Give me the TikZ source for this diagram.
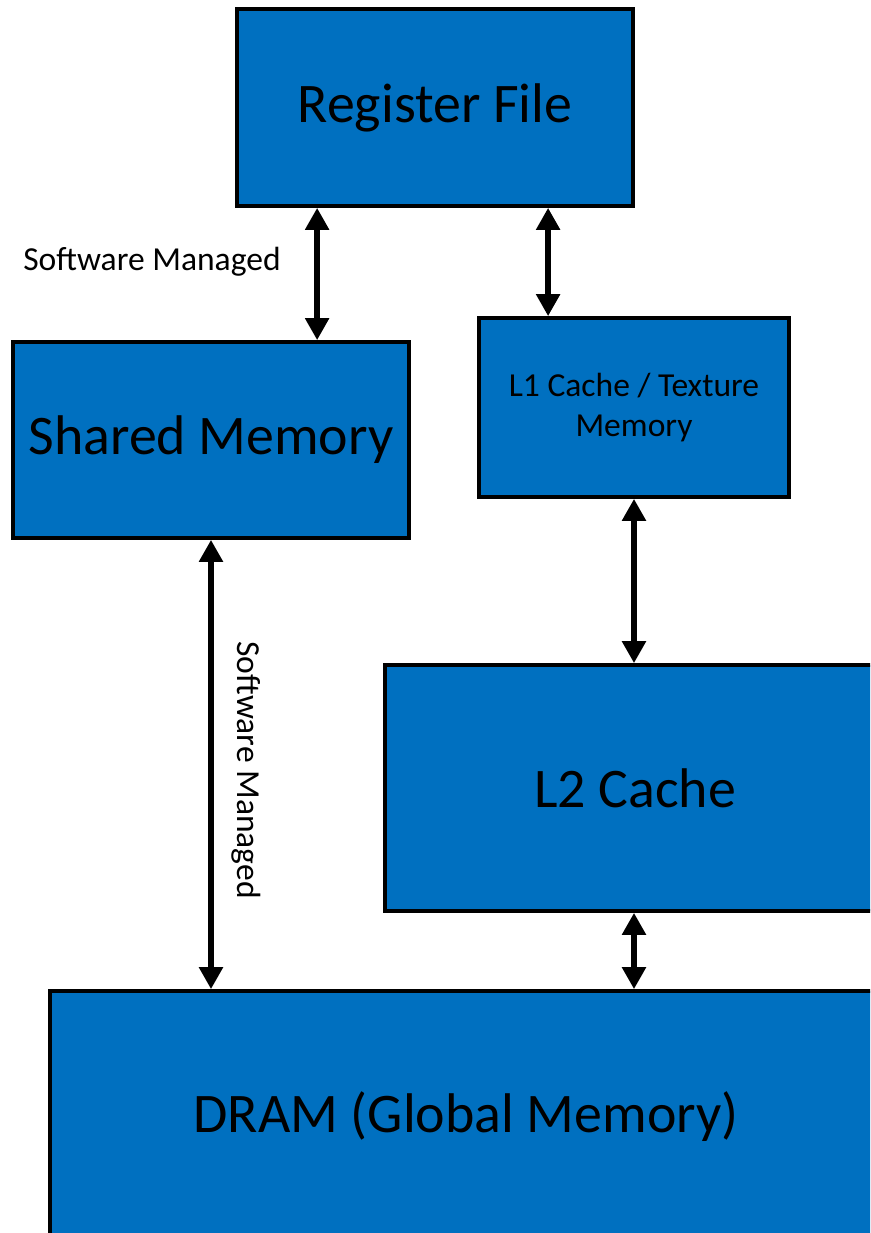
\documentclass[tikz,border=0pt]{standalone}
\usepackage{fontspec}
\setmainfont{Carlito}
\usetikzlibrary{calc,arrows.meta}

\definecolor{memblue}{HTML}{0070C0}

\begin{document}
\begin{tikzpicture}[x=0.02cm, y=-0.02cm,
    membox/.style={draw=black, fill=memblue, line width=2.1pt, rectangle, align=center, inner sep=0pt},
    bigtext/.style={font=\fontsize{31.8}{38}\selectfont},
    smalltext/.style={font=\fontsize{19.1}{23.2}\selectfont},
    link/.style={line width=3.4pt, {Triangle[length=12.5pt,width=13pt]}-{Triangle[length=12.5pt,width=13pt]}}]

      % Canvas (fixes the page size)
      \clip (0,0) rectangle (870,1233);

      % Memory boxes
      \node[membox, bigtext, minimum width=7.92cm, minimum height=3.94cm] (reg) at (435,107.5) {Register File};
      \node[membox, bigtext, minimum width=7.92cm, minimum height=3.92cm] (shm) at (211,440) {Shared Memory};
      \node[membox, smalltext, minimum width=6.2cm, minimum height=3.58cm] (l1) at (634,407.5) {L1 Cache / Texture\\Memory};
      \node[membox, bigtext, minimum width=10cm, minimum height=4.92cm] (l2) at (635,788) {L2 Cache};
      \node[membox, bigtext, minimum width=16.64cm, minimum height=5.04cm] (dram) at (466,1117) {DRAM (Global Memory)};

      % Arrow feet on the register file
      \coordinate (rs) at ($(reg.south west)!0.205!(reg.south east)$);
      \coordinate (rl) at ($(reg.south west)!0.783!(reg.south east)$);

      % Connectors
      \draw[link] (rs) -- (rs |- shm.north);
      \draw[link] (rl) -- (rl |- l1.north);
      \draw[link] (shm.south) -- (shm.south |- dram.north);
      \draw[link] (l1.south) -- (l1.south |- l2.north);
      \draw[link] (l2.south -| l1.south) -- (l1.south |- dram.north);

      % Labels
      \node[smalltext] (swtop) at (152,262) {Software Managed};
      \node[smalltext, rotate=-90] (swside) at (246,770) {Software Managed};

    \end{tikzpicture}
\end{document}
